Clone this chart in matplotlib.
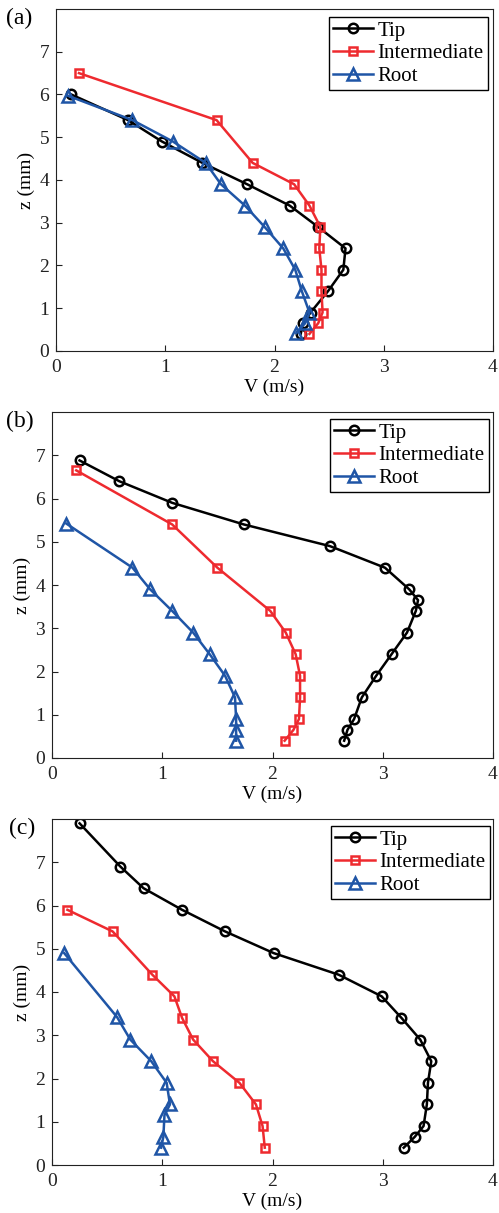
import matplotlib
matplotlib.use('Agg')
import matplotlib.pyplot as plt

plt.rcParams['font.family'] = ['Liberation Serif', 'DejaVu Serif']
plt.rcParams['font.size'] = 14

# (a)
z_tip_a = [6.0, 5.4, 4.9, 4.4, 3.9, 3.4, 2.9, 2.4, 1.9, 1.4, 0.9, 0.65, 0.4]
v_tip_a = [0.14, 0.66, 0.97, 1.34, 1.75, 2.14, 2.40, 2.65, 2.63, 2.49, 2.33, 2.26, 2.24]
z_int_a = [6.5, 5.4, 4.4, 3.9, 3.4, 2.9, 2.4, 1.9, 1.4, 0.9, 0.65, 0.4]
v_int_a = [0.21, 1.47, 1.80, 2.18, 2.32, 2.42, 2.41, 2.43, 2.43, 2.44, 2.40, 2.32]
z_root_a = [5.97, 5.4, 4.9, 4.4, 3.9, 3.4, 2.9, 2.4, 1.9, 1.4, 0.9, 0.65, 0.42]
v_root_a = [0.11, 0.70, 1.07, 1.37, 1.51, 1.73, 1.91, 2.08, 2.19, 2.25, 2.32, 2.28, 2.20]

# (b)
z_tip_b = [6.88, 6.4, 5.9, 5.4, 4.9, 4.4, 3.9, 3.65, 3.4, 2.9, 2.4, 1.9, 1.4, 0.9, 0.65, 0.4]
v_tip_b = [0.25, 0.61, 1.09, 1.74, 2.52, 3.02, 3.24, 3.32, 3.30, 3.22, 3.08, 2.94, 2.81, 2.74, 2.68, 2.65]
z_int_b = [6.65, 5.4, 4.4, 3.4, 2.9, 2.4, 1.9, 1.4, 0.9, 0.65, 0.4]
v_int_b = [0.22, 1.09, 1.50, 1.98, 2.12, 2.21, 2.25, 2.25, 2.24, 2.19, 2.11]
z_root_b = [5.42, 4.4, 3.9, 3.4, 2.9, 2.4, 1.9, 1.4, 0.9, 0.65, 0.4]
v_root_b = [0.13, 0.73, 0.89, 1.09, 1.28, 1.43, 1.57, 1.66, 1.67, 1.67, 1.67]

# (c)
z_tip_c = [7.9, 6.9, 6.4, 5.9, 5.4, 4.9, 4.4, 3.9, 3.4, 2.9, 2.4, 1.9, 1.4, 0.9, 0.65, 0.4]
v_tip_c = [0.25, 0.62, 0.83, 1.18, 1.57, 2.01, 2.60, 2.99, 3.17, 3.34, 3.44, 3.41, 3.40, 3.37, 3.29, 3.19]
z_int_c = [5.9, 5.4, 4.4, 3.9, 3.4, 2.9, 2.4, 1.9, 1.4, 0.9, 0.4]
v_int_c = [0.14, 0.55, 0.91, 1.11, 1.18, 1.28, 1.46, 1.70, 1.85, 1.91, 1.93]
z_root_c = [4.9, 3.42, 2.9, 2.4, 1.9, 1.4, 1.15, 0.65, 0.4]
v_root_c = [0.11, 0.59, 0.71, 0.90, 1.04, 1.07, 1.02, 1.01, 0.99]

labels = ['Tip', 'Intermediate', 'Root']
panel_names = ['(a)', '(b)', '(c)']

red = '#ee2a2f'
blue = '#1f55a6'

W, H = 499, 1213
fig = plt.figure(figsize=(W/100, H/100), dpi=100)

# axes boxes in pixels: left, right, top, bottom
boxes = [(56, 493, 9, 351), (52, 493, 412, 758), (52, 493, 819, 1165)]
legend_tr = [(488, 17), (489, 419), (490, 826)]
label_pos = [(6, 18), (6, 421), (9, 828)]

data = [
    (v_tip_a, z_tip_a, v_int_a, z_int_a, v_root_a, z_root_a),
    (v_tip_b, z_tip_b, v_int_b, z_int_b, v_root_b, z_root_b),
    (v_tip_c, z_tip_c, v_int_c, z_int_c, v_root_c, z_root_c),
]

for i in range(3):
    l, r, t, b = boxes[i]
    ax = fig.add_axes([l/W, 1-b/H, (r-l)/W, (b-t)/H])
    vt, zt, vi, zi, vr, zr = data[i]
    ax.plot(vt, zt, '-o', color='black', lw=1.8, ms=6.8, mfc='none', mew=1.8, label=labels[0])
    ax.plot(vi, zi, '-s', color=red, lw=1.8, ms=5.2, mfc='none', mew=1.8, label=labels[1])
    ax.plot(vr, zr, '-^', color=blue, lw=1.8, ms=8.8, mfc='none', mew=1.8, label=labels[2])
    ax.set_xlim(0, 4)
    ax.set_ylim(0, 8)
    ax.set_xticks([0, 1, 2, 3, 4])
    ax.set_yticks([0, 1, 2, 3, 4, 5, 6, 7])
    ax.tick_params(direction='in', length=4, width=0.8, colors='#222222', labelsize=14)
    ax.tick_params(axis='x', pad=6)
    ax.tick_params(axis='y', pad=5)
    for s in ax.spines.values():
        s.set_linewidth(0.8)
        s.set_color('#222222')
    ax.set_xlabel('V (m/s)', fontsize=14, labelpad=2)
    ax.set_ylabel('z (mm)', fontsize=14, labelpad=3)
    lx, ly = legend_tr[i]
    leg = ax.legend(loc='upper right', bbox_to_anchor=(lx/W, 1-ly/H), bbox_transform=fig.transFigure,
                    fancybox=False, framealpha=1, edgecolor='black', fontsize=15,
                    handlelength=1.9, handletextpad=0.25, labelspacing=0.15, borderpad=0.2,
                    borderaxespad=0)
    leg.get_frame().set_linewidth(1.0)
    px, py = label_pos[i]
    fig.text(px/W, 1-py/H, panel_names[i], fontsize=17, va='center', ha='left')

fig.savefig('out.png', dpi=100)
